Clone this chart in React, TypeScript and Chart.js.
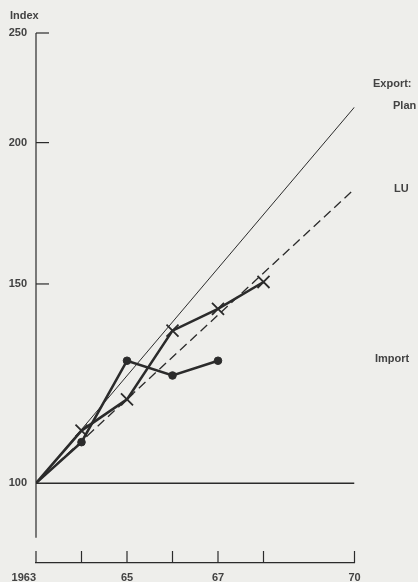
import React, { useEffect, useRef } from "react";
import { Chart, registerables } from "chart.js";

Chart.register(...registerables);

// ---- data ----
const baseYears = [1963, 1970];
const baseValues = [100, 100];
const planYears = [1963, 1970];
const planValues = [100, 215];
const luYears = [1963, 1970];
const luValues = [100, 182];
const exportYears = [1963, 1964, 1965, 1966, 1967, 1968];
const exportValues = [100, 111.3, 118.6, 136.4, 142.6, 150.6];
const importYears = [1963, 1964, 1965, 1966, 1967];
const importValues = [100, 108.7, 128.3, 124.5, 128.3];
const xTickYears = [1963, 1964, 1965, 1966, 1967, 1968, 1970];
const xTickLabels = ["1963", "", "65", "", "67", "", "70"];
const yTickValues = [100, 150, 200, 250];
const yTickLabels = ["100", "150", "200", "250"];
const axisTitle = "Index";
const seriesLabels = ["Export:", "Plan", "LU", "Import"];

export default function App() {
  const ref = useRef<HTMLCanvasElement>(null);

  useEffect(() => {
    const canvas = ref.current;
    if (!canvas) return;
    const ink = "#2b2b2b";
    const textInk = "#424242";
    const family = "'Liberation Sans', Arial, sans-serif";
    const font = { family, size: 11, weight: "bold" as const };
    const toPts = (xs: number[], ys: number[]) => xs.map((x, i) => ({ x, y: ys[i] }));

    const decor = {
      id: "decor",
      afterDatasetsDraw(chart: any) {
        const { ctx, chartArea, scales } = chart;
        const xs = scales.x;
        const ys = scales.y;
        const left = chartArea.left;
        ctx.save();
        ctx.strokeStyle = ink;
        ctx.lineWidth = 1.2;
        // vertical axis line (stops short of the year axis)
        ctx.beginPath();
        ctx.moveTo(left, ys.getPixelForValue(yTickValues[yTickValues.length - 1]));
        ctx.lineTo(left, ys.getPixelForValue(89.5));
        ctx.stroke();
        // inward ticks on the value axis
        for (const v of yTickValues) {
          if (v === baseValues[0]) continue;
          const py = ys.getPixelForValue(v);
          ctx.beginPath();
          ctx.moveTo(left, py);
          ctx.lineTo(left + 13, py);
          ctx.stroke();
        }
        // upward ticks on the year axis
        for (const yr of xTickYears) {
          const px = xs.getPixelForValue(yr);
          ctx.beginPath();
          ctx.moveTo(px, chartArea.bottom);
          ctx.lineTo(px, chartArea.bottom - 12);
          ctx.stroke();
        }
        // texts
        ctx.fillStyle = textInk;
        ctx.font = `bold 11px ${family}`;
        ctx.textBaseline = "middle";
        ctx.textAlign = "left";
        ctx.fillText(axisTitle, 10, 16);
        const r = chartArea.right;
        const yPlan = ys.getPixelForValue(planValues[planValues.length - 1]);
        const yLu = ys.getPixelForValue(luValues[luValues.length - 1]);
        const yImp = ys.getPixelForValue(importValues[importValues.length - 1]);
        ctx.fillText(seriesLabels[0], r + 18.5, yPlan - 23);
        ctx.fillText(seriesLabels[1], r + 38.5, yPlan - 1);
        ctx.fillText(seriesLabels[2], r + 39.5, yLu);
        ctx.fillText(seriesLabels[3], r + 20.5, yImp - 2);
        ctx.restore();
      },
    };

    const chart = new Chart(canvas, {
      type: "line",
      data: {
        datasets: [
          {
            data: toPts(exportYears, exportValues),
            borderColor: ink,
            borderWidth: 2.6,
            pointStyle: "crossRot",
            pointRadius: exportValues.map((_, i) => (i === 0 ? 0 : 8.5)),
            pointBorderWidth: 1.8,
            pointBorderColor: ink,
            pointBackgroundColor: ink,
            fill: false,
            tension: 0,
          },
          {
            data: toPts(importYears, importValues),
            borderColor: ink,
            borderWidth: 2.6,
            pointStyle: "circle",
            pointRadius: importValues.map((_, i) => (i === 0 ? 0 : 3.8)),
            pointBorderWidth: 1,
            pointBorderColor: ink,
            pointBackgroundColor: ink,
            fill: false,
            tension: 0,
          },
          {
            data: toPts(planYears, planValues),
            borderColor: ink,
            borderWidth: 1,
            pointRadius: 0,
            fill: false,
          },
          {
            data: toPts(luYears, luValues),
            borderColor: ink,
            borderWidth: 1.3,
            borderDash: [9, 5],
            pointRadius: 0,
            fill: false,
          },
          {
            data: toPts(baseYears, baseValues),
            borderColor: ink,
            borderWidth: 1.5,
            pointRadius: 0,
            fill: false,
          },
        ],
      },
      options: {
        responsive: false,
        animation: false,
        events: [],
        layout: { padding: { top: 33, right: 63.5, bottom: 0, left: 0 } },
        plugins: {
          legend: { display: false },
          tooltip: { enabled: false },
          title: { display: false },
        },
        scales: {
          x: {
            type: "linear",
            min: 1963,
            max: 1970,
            bounds: "data",
            grid: { display: false, drawTicks: false },
            border: { display: true, color: ink, width: 1.3 },
            afterBuildTicks: (s: any) => {
              s.ticks = xTickYears.map((v) => ({ value: v }));
            },
            afterFit: (s: any) => {
              s.height = 19;
            },
            ticks: {
              autoSkip: false,
              maxRotation: 0,
              minRotation: 0,
              padding: 8,
              color: textInk,
              font,
              callback: (v: any) => {
                const i = xTickYears.indexOf(Number(v));
                if (i < 0) return "";
                return i === 0 ? xTickLabels[i] + "        " : xTickLabels[i];
              },
            },
          },
          y: {
            type: "logarithmic",
            min: 85,
            max: 250,
            bounds: "data",
            grid: { display: false, drawTicks: false },
            border: { display: false },
            afterBuildTicks: (s: any) => {
              s.ticks = yTickValues.map((v) => ({ value: v }));
            },
            afterFit: (s: any) => {
              s.width = 36;
            },
            ticks: {
              padding: 9,
              color: textInk,
              font,
              callback: (v: any) => {
                const i = yTickValues.indexOf(Number(v));
                return i >= 0 ? yTickLabels[i] : "";
              },
            },
          },
        },
      },
      plugins: [decor],
    } as any);

    return () => chart.destroy();
  }, []);

  return (
    <div
      style={{
        position: "fixed",
        left: 0,
        top: 0,
        width: 418,
        height: 582,
        background: "#eeeeeb",
        overflow: "hidden",
      }}
    >
      <canvas ref={ref} width={418} height={582} style={{ display: "block" }} />
    </div>
  );
}
